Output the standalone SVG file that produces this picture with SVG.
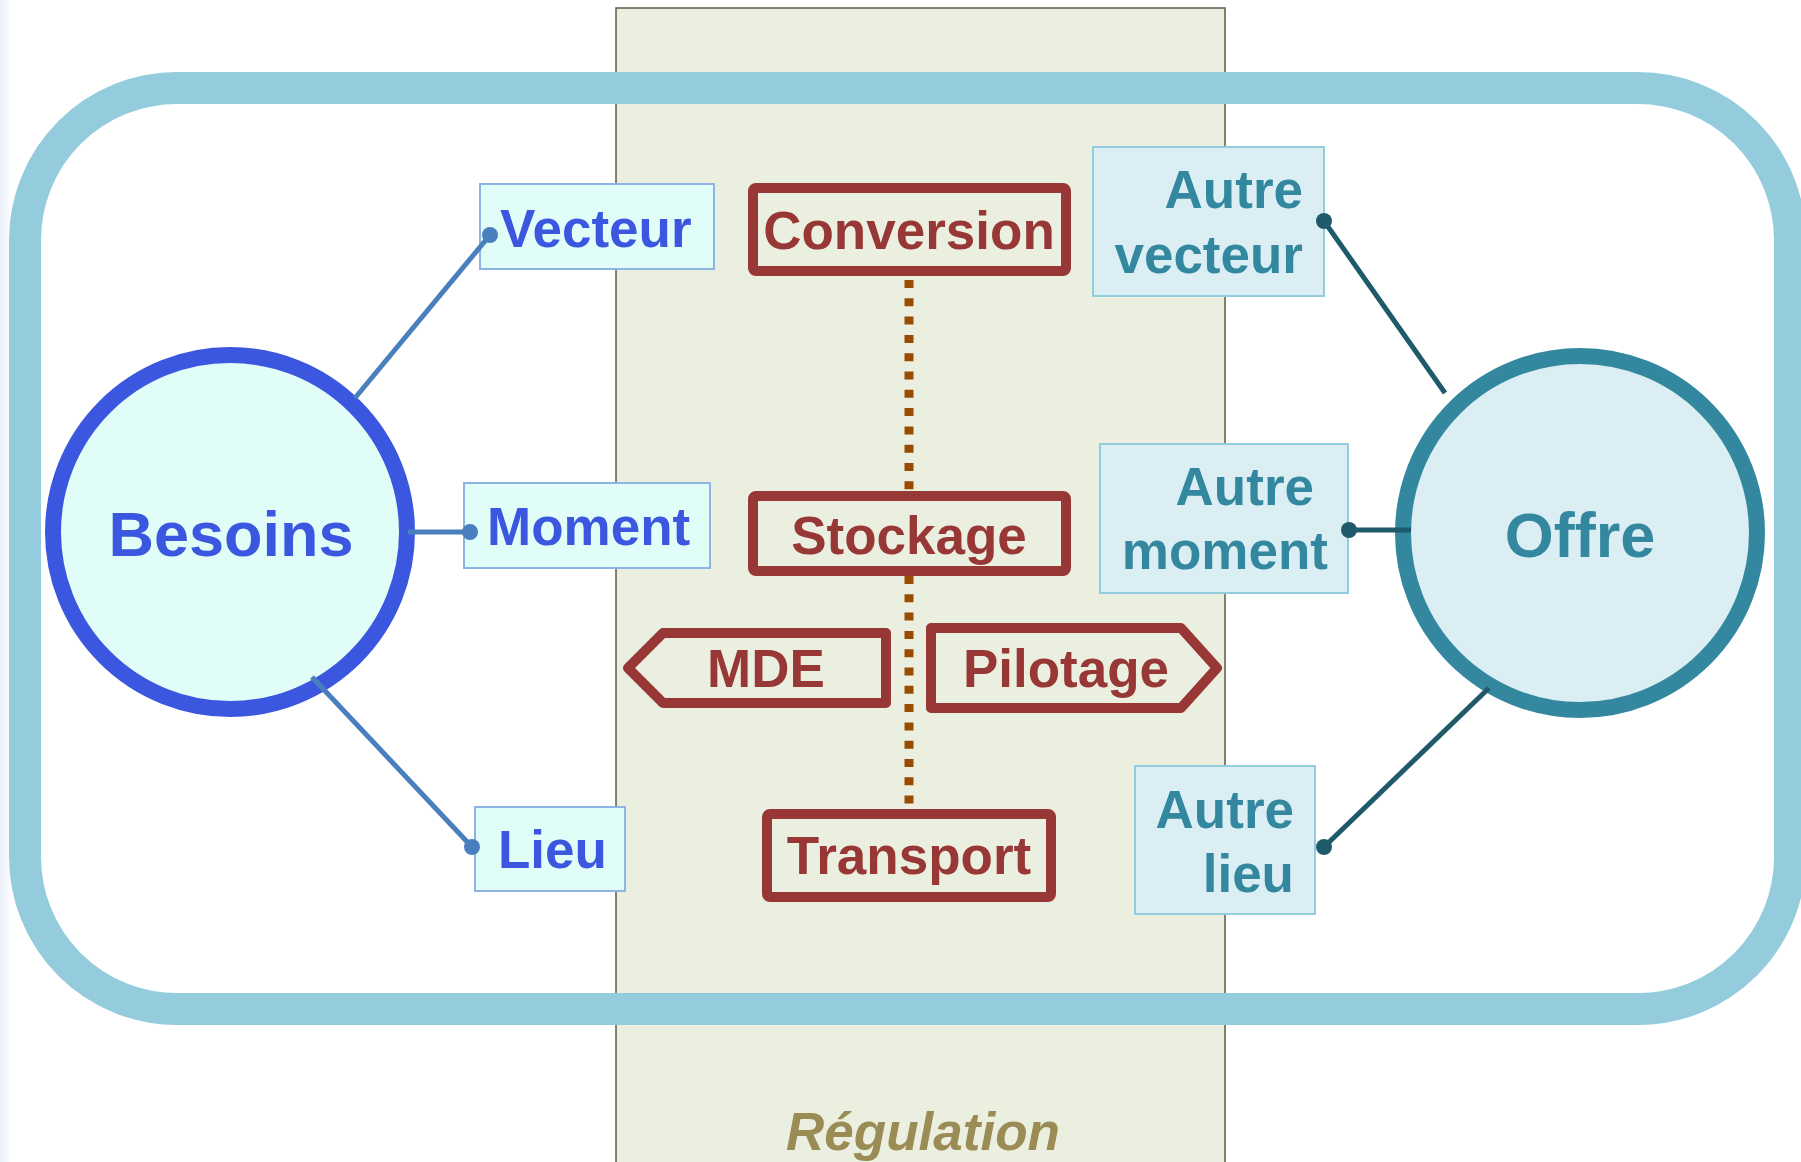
<svg xmlns="http://www.w3.org/2000/svg" width="1801" height="1162" viewBox="0 0 1801 1162">
<defs>
<linearGradient id="edge" x1="0" y1="0" x2="1" y2="0">
<stop offset="0" stop-color="#EAEFFA"/><stop offset="1" stop-color="#FFFFFF"/>
</linearGradient>
</defs>
<style>
text{font-family:"Liberation Sans",Arial,sans-serif;font-weight:bold}
.lbl{font-size:53px}
.big{font-size:63px}
.bl{fill:#3B57E0}
.tl{fill:#33879E}
.rd{fill:#973736}
.bbox{fill:#E1FDF8;stroke:#8EB4E3;stroke-width:2}
.tbox{fill:#DAEEF3;stroke:#93CDDD;stroke-width:2}
.reg{fill:none;stroke:#973736;stroke-width:10;stroke-linejoin:round}
.bline{stroke:#4A7FBD;stroke-width:5;fill:none}
.tline{stroke:#1F5A6B;stroke-width:5;fill:none}
.dot{stroke:#994C00;stroke-width:9;stroke-dasharray:8 10.3;fill:none}
</style>
<rect x="0" y="0" width="1801" height="1162" fill="#FFFFFF"/>
<rect x="0" y="0" width="12" height="1162" fill="url(#edge)"/>
<g id="regulation">
<rect x="616" y="8" width="609" height="1170" fill="#EBEFDF" stroke="#5F5B45" stroke-width="1.5"/>
<text x="923" y="1150" text-anchor="middle" font-style="italic" style="font-size:53px;fill:#9B8B55">Régulation</text>
</g>
<g id="frame">
<rect x="25" y="88" width="1765" height="921" rx="152" ry="152" fill="none" stroke="#94CCDD" stroke-width="32"/>
</g>
<g id="besoins">
<circle cx="230" cy="532" r="177" fill="#E1FDF8" stroke="#3B57E0" stroke-width="16"/>
<text class="big bl" x="231" y="556" text-anchor="middle">Besoins</text>
</g>
<g id="offre">
<circle cx="1580" cy="533" r="177" fill="#DAEEF3" stroke="#33879E" stroke-width="16"/>
<text class="big tl" x="1580" y="557" text-anchor="middle">Offre</text>
</g>
<g id="vecteur">
<rect class="bbox" x="480" y="184" width="234" height="85"/>
<text class="lbl bl" x="500" y="247">Vecteur</text>
</g>
<g id="moment">
<rect class="bbox" x="464" y="483" width="246" height="85"/>
<text class="lbl bl" x="487" y="545">Moment</text>
</g>
<g id="lieu">
<rect class="bbox" x="475" y="807" width="150" height="84"/>
<text class="lbl bl" x="498" y="868">Lieu</text>
</g>
<g id="autre-vecteur">
<rect class="tbox" x="1093" y="147" width="231" height="149"/>
<text class="lbl tl" x="1303" y="208" text-anchor="end">Autre</text>
<text class="lbl tl" x="1303" y="273" text-anchor="end">vecteur</text>
</g>
<g id="autre-moment">
<rect class="tbox" x="1100" y="444" width="248" height="149"/>
<text class="lbl tl" x="1314" y="505" text-anchor="end">Autre</text>
<text class="lbl tl" x="1328" y="569" text-anchor="end">moment</text>
</g>
<g id="autre-lieu">
<rect class="tbox" x="1135" y="766" width="180" height="148"/>
<text class="lbl tl" x="1294" y="828" text-anchor="end">Autre</text>
<text class="lbl tl" x="1294" y="892" text-anchor="end">lieu</text>
</g>
<g id="conversion">
<rect class="reg" x="753" y="188" width="313" height="83" rx="3"/>
<text class="lbl rd" x="909" y="249" text-anchor="middle">Conversion</text>
</g>
<g id="stockage">
<rect class="reg" x="753" y="496" width="313" height="75" rx="3"/>
<text class="lbl rd" x="909" y="554" text-anchor="middle">Stockage</text>
</g>
<g id="mde">
<polygon class="reg" points="886,633 663,633 628,668 663,703 886,703"/>
<text class="lbl rd" x="766" y="687" text-anchor="middle">MDE</text>
</g>
<g id="pilotage">
<polygon class="reg" points="931,628 1181,628 1217,668 1181,708 931,708"/>
<text class="lbl rd" x="1066" y="687" text-anchor="middle">Pilotage</text>
</g>
<g id="transport">
<rect class="reg" x="767" y="814" width="284" height="83" rx="3"/>
<text class="lbl rd" x="909" y="874" text-anchor="middle">Transport</text>
</g>
<g id="connectors">
<line class="dot" x1="909" y1="280" x2="909" y2="491"/>
<line class="dot" x1="909" y1="576" x2="909" y2="809"/>
<line class="bline" x1="355" y1="398" x2="490" y2="235"/>
<line class="bline" x1="408" y1="532" x2="470" y2="532"/>
<line class="bline" x1="312" y1="677" x2="472" y2="847"/>
<line class="tline" x1="1445" y1="393" x2="1324" y2="221"/>
<line class="tline" x1="1411" y1="530" x2="1349" y2="530"/>
<line class="tline" x1="1489" y1="688" x2="1324" y2="847"/>
<g id="dots">
<circle cx="490" cy="235" r="8" fill="#4A7FBD"/>
<circle cx="470" cy="532" r="8" fill="#4A7FBD"/>
<circle cx="472" cy="847" r="8" fill="#4A7FBD"/>
<circle cx="1324" cy="221" r="8" fill="#1F5A6B"/>
<circle cx="1349" cy="530" r="8" fill="#1F5A6B"/>
<circle cx="1324" cy="847" r="8" fill="#1F5A6B"/>
</g>
</g>
</svg>
